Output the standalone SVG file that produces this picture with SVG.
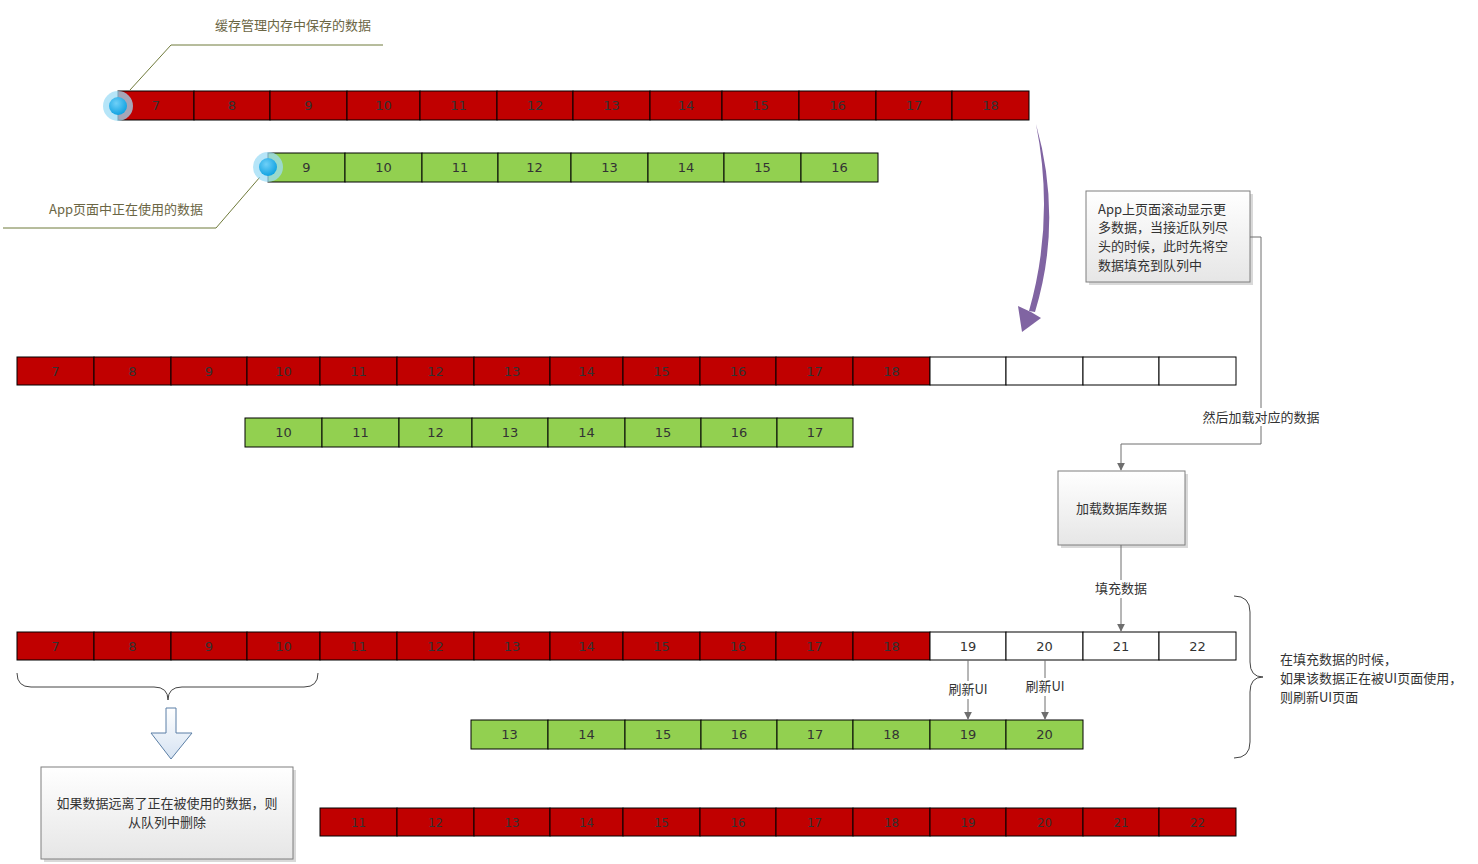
<svg xmlns="http://www.w3.org/2000/svg" width="1478" height="864" viewBox="0 0 1478 864">
<defs>
<linearGradient id="boxg" x1="0" y1="0" x2="0" y2="1"><stop offset="0" stop-color="#ffffff"/><stop offset="1" stop-color="#e6e6e6"/></linearGradient>
<linearGradient id="blockg" x1="0" y1="0" x2="0" y2="1"><stop offset="0" stop-color="#ffffff"/><stop offset="1" stop-color="#d6e3f2"/></linearGradient>
<radialGradient id="dotg" cx="0.4" cy="0.35" r="0.7"><stop offset="0" stop-color="#6fd0f8"/><stop offset="1" stop-color="#0a9fe0"/></radialGradient>
<marker id="arr" viewBox="0 0 10 10" refX="9" refY="5" markerWidth="8" markerHeight="8" markerUnits="userSpaceOnUse" orient="auto"><path d="M0,0 L10,5 L0,10 z" fill="#6e6e6e"/></marker>
</defs>
<style>
.r{fill:#c00000;stroke:#000;stroke-width:1}
.g{fill:#92d050;stroke:#000;stroke-width:1}
.w{fill:#ffffff;stroke:#000;stroke-width:1}
.n{font-family:"DejaVu Sans",sans-serif;font-size:13px;fill:#333;text-anchor:middle}
.nc{font-family:"DejaVu Sans",sans-serif;font-size:13px;fill:#333;text-anchor:middle;font-stretch:condensed}
.cn{font-family:"Noto Sans CJK SC",sans-serif;font-size:13px;fill:#333}
.lbl{font-family:"Noto Sans CJK SC",sans-serif;font-size:13px;fill:#6b6644}
.callout{fill:none;stroke:#6f7a3a;stroke-width:1}
.conn{fill:none;stroke:#6e6e6e;stroke-width:1}
.brace{fill:none;stroke:#444;stroke-width:1}
.box{fill:url(#boxg);stroke:#7f7f7f;stroke-width:1}
.shadow{fill:#d9d9d9}
</style>

<g id="label-cache">
<path class="callout" d="M130,90 L171,45 L383,45"/>
<text class="lbl" x="293" y="30" text-anchor="middle">缓存管理内存中保存的数据</text>
</g>

<g id="label-app">
<path class="callout" d="M260,177 L216,228 L3,228"/>
<text class="lbl" x="126" y="214" text-anchor="middle">App页面中正在使用的数据</text>
</g>

<g id="row-cache-1">
<rect class="r" x="118" y="91" width="76" height="29"/><rect class="r" x="194" y="91" width="76" height="29"/><rect class="r" x="270" y="91" width="77" height="29"/><rect class="r" x="347" y="91" width="73" height="29"/><rect class="r" x="420" y="91" width="77" height="29"/><rect class="r" x="497" y="91" width="76" height="29"/><rect class="r" x="573" y="91" width="77" height="29"/><rect class="r" x="650" y="91" width="72" height="29"/><rect class="r" x="722" y="91" width="77" height="29"/><rect class="r" x="799" y="91" width="77" height="29"/><rect class="r" x="876" y="91" width="76" height="29"/><rect class="r" x="952" y="91" width="77" height="29"/>
<text class="n" x="156" y="110">7</text><text class="n" x="232" y="110">8</text><text class="n" x="308.5" y="110">9</text><text class="n" x="383.5" y="110">10</text><text class="n" x="458.5" y="110">11</text><text class="n" x="535" y="110">12</text><text class="n" x="611.5" y="110">13</text><text class="n" x="686" y="110">14</text><text class="n" x="760.5" y="110">15</text><text class="n" x="837.5" y="110">16</text><text class="n" x="914" y="110">17</text><text class="n" x="990.5" y="110">18</text>
<circle cx="118" cy="106" r="15" fill="#9edcf6" opacity="0.75"/><circle cx="118" cy="106" r="9" fill="url(#dotg)"/>
</g>

<g id="row-app-1">
<rect class="g" x="268" y="153" width="77" height="29"/><rect class="g" x="345" y="153" width="77" height="29"/><rect class="g" x="422" y="153" width="76" height="29"/><rect class="g" x="498" y="153" width="73" height="29"/><rect class="g" x="571" y="153" width="77" height="29"/><rect class="g" x="648" y="153" width="76" height="29"/><rect class="g" x="724" y="153" width="77" height="29"/><rect class="g" x="801" y="153" width="77" height="29"/>
<text class="n" x="306.5" y="172">9</text><text class="n" x="383.5" y="172">10</text><text class="n" x="460" y="172">11</text><text class="n" x="534.5" y="172">12</text><text class="n" x="609.5" y="172">13</text><text class="n" x="686" y="172">14</text><text class="n" x="762.5" y="172">15</text><text class="n" x="839.5" y="172">16</text>
<circle cx="268" cy="167" r="15" fill="#9edcf6" opacity="0.75"/><circle cx="268" cy="167" r="9" fill="url(#dotg)"/>
</g>

<g id="scroll-arrow">
<path d="M1036,124 Q1063,220 1035,312 L1029,311 Q1055,220 1036,124 Z" fill="#8064a2"/>
<path d="M1018,306 L1031,312 L1041,318 L1022,332 Z" fill="#8064a2"/>
</g>

<g id="note-scroll">
<rect class="shadow" x="1089" y="194" width="164" height="91"/>
<rect class="box" x="1086" y="191" width="164" height="91"/>
<text class="cn" x="1098" y="214">App上页面滚动显示更</text>
<text class="cn" x="1098" y="232">多数据，当接近队列尽</text>
<text class="cn" x="1098" y="251">头的时候，此时先将空</text>
<text class="cn" x="1098" y="270">数据填充到队列中</text>
</g>

<g id="row-cache-2">
<rect class="r" x="17" y="357" width="77" height="28"/><rect class="r" x="94" y="357" width="77" height="28"/><rect class="r" x="171" y="357" width="76" height="28"/><rect class="r" x="247" y="357" width="73" height="28"/><rect class="r" x="320" y="357" width="77" height="28"/><rect class="r" x="397" y="357" width="77" height="28"/><rect class="r" x="474" y="357" width="76" height="28"/><rect class="r" x="550" y="357" width="73" height="28"/><rect class="r" x="623" y="357" width="77" height="28"/><rect class="r" x="700" y="357" width="76" height="28"/><rect class="r" x="776" y="357" width="77" height="28"/><rect class="r" x="853" y="357" width="77" height="28"/>
<rect class="w" x="930" y="357" width="76" height="28"/><rect class="w" x="1006" y="357" width="77" height="28"/><rect class="w" x="1083" y="357" width="76" height="28"/><rect class="w" x="1159" y="357" width="77" height="28"/>
<text class="n" x="55.5" y="376">7</text><text class="n" x="132.5" y="376">8</text><text class="n" x="209" y="376">9</text><text class="n" x="283.5" y="376">10</text><text class="n" x="358.5" y="376">11</text><text class="n" x="435.5" y="376">12</text><text class="n" x="512" y="376">13</text><text class="n" x="586.5" y="376">14</text><text class="n" x="661.5" y="376">15</text><text class="n" x="738" y="376">16</text><text class="n" x="814.5" y="376">17</text><text class="n" x="891.5" y="376">18</text>
</g>

<g id="row-app-2">
<rect class="g" x="245" y="418" width="77" height="29"/><rect class="g" x="322" y="418" width="77" height="29"/><rect class="g" x="399" y="418" width="73" height="29"/><rect class="g" x="472" y="418" width="76" height="29"/><rect class="g" x="548" y="418" width="77" height="29"/><rect class="g" x="625" y="418" width="76" height="29"/><rect class="g" x="701" y="418" width="76" height="29"/><rect class="g" x="777" y="418" width="76" height="29"/>
<text class="n" x="283.5" y="437">10</text><text class="n" x="360.5" y="437">11</text><text class="n" x="435.5" y="437">12</text><text class="n" x="510" y="437">13</text><text class="n" x="586.5" y="437">14</text><text class="n" x="663" y="437">15</text><text class="n" x="739" y="437">16</text><text class="n" x="815" y="437">17</text>
</g>

<g id="load-db">
<rect class="shadow" x="1061" y="474" width="127" height="74"/>
<rect class="box" x="1058" y="471" width="127" height="74"/>
<text class="cn" x="1121.5" y="513" text-anchor="middle">加载数据库数据</text>
</g>

<g id="row-cache-3">
<rect class="r" x="17" y="632" width="77" height="28"/><rect class="r" x="94" y="632" width="77" height="28"/><rect class="r" x="171" y="632" width="76" height="28"/><rect class="r" x="247" y="632" width="73" height="28"/><rect class="r" x="320" y="632" width="77" height="28"/><rect class="r" x="397" y="632" width="77" height="28"/><rect class="r" x="474" y="632" width="76" height="28"/><rect class="r" x="550" y="632" width="73" height="28"/><rect class="r" x="623" y="632" width="77" height="28"/><rect class="r" x="700" y="632" width="76" height="28"/><rect class="r" x="776" y="632" width="77" height="28"/><rect class="r" x="853" y="632" width="77" height="28"/>
<rect class="w" x="930" y="632" width="76" height="28"/><rect class="w" x="1006" y="632" width="77" height="28"/><rect class="w" x="1083" y="632" width="76" height="28"/><rect class="w" x="1159" y="632" width="77" height="28"/>
<text class="n" x="55.5" y="651">7</text><text class="n" x="132.5" y="651">8</text><text class="n" x="209" y="651">9</text><text class="n" x="283.5" y="651">10</text><text class="n" x="358.5" y="651">11</text><text class="n" x="435.5" y="651">12</text><text class="n" x="512" y="651">13</text><text class="n" x="586.5" y="651">14</text><text class="n" x="661.5" y="651">15</text><text class="n" x="738" y="651">16</text><text class="n" x="814.5" y="651">17</text><text class="n" x="891.5" y="651">18</text>
<text class="n" x="968" y="651">19</text><text class="n" x="1044.5" y="651">20</text><text class="n" x="1121" y="651">21</text><text class="n" x="1197.5" y="651">22</text>
</g>

<g id="row-app-3">
<rect class="g" x="471" y="720" width="77" height="29"/><rect class="g" x="548" y="720" width="77" height="29"/><rect class="g" x="625" y="720" width="76" height="29"/><rect class="g" x="701" y="720" width="76" height="29"/><rect class="g" x="777" y="720" width="76" height="29"/><rect class="g" x="853" y="720" width="77" height="29"/><rect class="g" x="930" y="720" width="76" height="29"/><rect class="g" x="1006" y="720" width="77" height="29"/>
<text class="n" x="509.5" y="739">13</text><text class="n" x="586.5" y="739">14</text><text class="n" x="663" y="739">15</text><text class="n" x="739" y="739">16</text><text class="n" x="815" y="739">17</text><text class="n" x="891.5" y="739">18</text><text class="n" x="968" y="739">19</text><text class="n" x="1044.5" y="739">20</text>
</g>

<g id="brace-right">
<path class="brace" d="M1234,596 Q1250,596 1250,612 L1250,662 Q1250,677 1263,677 Q1250,677 1250,692 L1250,742 Q1250,758 1234,758"/>
</g>

<g id="note-refresh">
<text class="cn" x="1280" y="664" font-size="12.5">在填充数据的时候，</text>
<text class="cn" x="1280" y="683" font-size="12.5">如果该数据正在被UI页面使用，</text>
<text class="cn" x="1280" y="702" font-size="12.5">则刷新UI页面</text>
</g>

<g id="brace-left">
<path class="brace" d="M17,673 Q17,687 31,687 L154,687 Q168,687 168,700 Q168,687 182,687 L304,687 Q318,687 318,673"/>
</g>

<g id="block-arrow">
<path d="M166,708 L176,708 L176,733 L192,733 L171,759 L151,733 L166,733 Z" fill="url(#blockg)" stroke="#5b7fa6" stroke-width="1"/>
</g>

<g id="note-remove">
<rect class="shadow" x="44" y="770" width="252" height="92"/>
<rect class="box" x="41" y="767" width="252" height="92"/>
<text class="cn" x="167" y="808" text-anchor="middle">如果数据远离了正在被使用的数据，则</text>
<text class="cn" x="167" y="827" text-anchor="middle">从队列中删除</text>
</g>

<g id="row-cache-4">
<rect class="r" x="320" y="808" width="77" height="28"/><rect class="r" x="397" y="808" width="77" height="28"/><rect class="r" x="474" y="808" width="76" height="28"/><rect class="r" x="550" y="808" width="73" height="28"/><rect class="r" x="623" y="808" width="77" height="28"/><rect class="r" x="700" y="808" width="76" height="28"/><rect class="r" x="776" y="808" width="77" height="28"/><rect class="r" x="853" y="808" width="77" height="28"/><rect class="r" x="930" y="808" width="76" height="28"/><rect class="r" x="1006" y="808" width="77" height="28"/><rect class="r" x="1083" y="808" width="76" height="28"/><rect class="r" x="1159" y="808" width="77" height="28"/>
<text class="nc" x="358.5" y="827">11</text><text class="nc" x="435.5" y="827">12</text><text class="nc" x="512" y="827">13</text><text class="nc" x="586.5" y="827">14</text><text class="nc" x="661.5" y="827">15</text><text class="nc" x="738" y="827">16</text><text class="nc" x="814.5" y="827">17</text><text class="nc" x="891.5" y="827">18</text><text class="nc" x="968" y="827">19</text><text class="nc" x="1044.5" y="827">20</text><text class="nc" x="1121" y="827">21</text><text class="nc" x="1197.5" y="827">22</text>
</g>

<g id="connectors">
<path class="conn" d="M1250,237 L1261,237 L1261,444 L1121,444 L1121,470" marker-end="url(#arr)"/>
<rect x="1200" y="408" width="122" height="18" fill="#fff"/>
<text class="cn" x="1261" y="422" text-anchor="middle">然后加载对应的数据</text>
<path class="conn" d="M1121,545 L1121,631" marker-end="url(#arr)"/>
<rect x="1093" y="580" width="56" height="18" fill="#fff"/>
<text class="cn" x="1121" y="593" text-anchor="middle">填充数据</text>
<path class="conn" d="M968,660 L968,719" marker-end="url(#arr)"/>
<rect x="946" y="681" width="44" height="18" fill="#fff"/>
<text class="cn" x="968" y="694" text-anchor="middle">刷新UI</text>
<path class="conn" d="M1045,660 L1045,719" marker-end="url(#arr)"/>
<rect x="1023" y="678" width="44" height="18" fill="#fff"/>
<text class="cn" x="1045" y="691" text-anchor="middle">刷新UI</text>
</g>
</svg>
